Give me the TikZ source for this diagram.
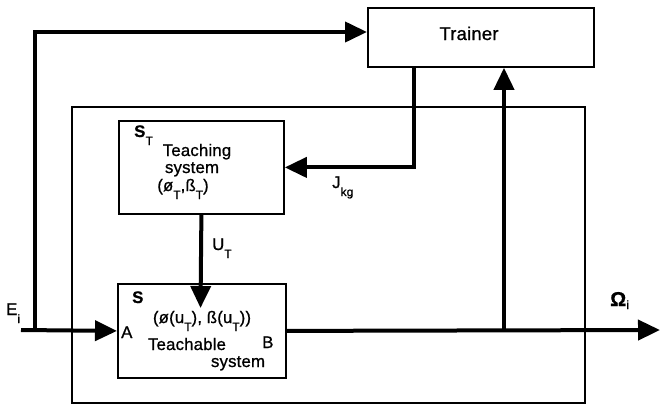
\documentclass[tikz,border=0pt]{standalone}
\usepackage{fontspec}
\setmainfont{Liberation Sans}[LetterSpace=1,FakeBold=0.9]
\usetikzlibrary{arrows.meta}
% index set below the base line, as in the printed labels
\newcommand\lsub[1]{\raisebox{-8pt}{\fontsize{12}{12}\selectfont #1}}

\begin{document}
\begin{tikzpicture}[x=1pt,y=-1pt,
  block/.style={draw, line width=1.8pt, inner sep=0pt, anchor=north west},
  frame/.style={draw, line width=1.2pt},
  sig/.style={line width=4pt},
  tip/.style={-{Triangle[length=22pt,width=20pt]}},
  lbl/.style={inner sep=0pt, font=\fontsize{16.8}{18}\selectfont}]
\useasboundingbox (0,0) rectangle (660,408);

% enclosing frame of the taught system
\draw[frame] (72,107) rectangle (585,403);

% blocks
\node[block, minimum width=226pt, minimum height=59pt] (trainer) at (367,7) {};
\node[block, minimum width=165pt, minimum height=93pt] (teach) at (118,120) {};
\node[block, minimum width=168pt, minimum height=94pt] (sys) at (117,283) {};

% texts of the blocks
\node[lbl, font=\fontsize{18.5}{20}\selectfont, anchor=base] (trainertxt) at (469,40) {Trainer};
\node[lbl, anchor=base west] (st) at (134,137) {\textbf{S}\lsub{T}};
\node[lbl, anchor=base] (teachtxt) at (197,156) {Teaching};
\node[lbl, anchor=base] (systxt1) at (192,173) {system};
\node[lbl, anchor=base] (pair1) at (183,191) {(ø\lsub{T},ß\lsub{T})};

\node[lbl, anchor=base west] (s) at (132,303) {\textbf{S}};
\node[lbl, anchor=base] (pair2) at (202,323) {(ø(u\lsub{T}), ß(u\lsub{T}))};
\node[lbl, anchor=base west] (a) at (121,338) {A};
\node[lbl, anchor=base west] (b) at (262,348) {B};
\node[lbl, anchor=base] (teachable) at (187,350) {Teachable};
\node[lbl, anchor=base] (systxt2) at (238,367) {system};

% signal labels
\node[lbl, anchor=base west] (ei) at (6,315) {E\lsub{i}};
\node[lbl, anchor=base west] (jkg) at (332,188) {J\lsub{kg}};
\node[lbl, anchor=base west] (ut) at (212,250) {U\lsub{T}};
\node[lbl, anchor=base west, font=\fontsize{20}{20}\selectfont] (om) at (610,306) {\textbf{Ω}\raisebox{-3pt}{\fontsize{12}{12}\selectfont i}};

% connector end points
\coordinate (ein) at (21,330);
\coordinate (split) at (35,330);
\coordinate (tin) at (367,32);
\coordinate (jdrop) at (414,66);
\coordinate (uend) at (200.5,308);
\coordinate (tap) at (504,330);
\coordinate (out) at (660,330);

% signal lines
\draw[sig, tip] (ein) -- (sys.west);
\draw[sig, tip] (split) |- (tin);
\draw[sig, tip] (jdrop) |- (teach.east);
\draw[sig, tip] (teach.south) -- (uend);
\draw[sig, tip] (sys.east) -- (out);
\draw[sig, tip] (tap) -- (tap |- trainer.south);
\end{tikzpicture}
\end{document}
